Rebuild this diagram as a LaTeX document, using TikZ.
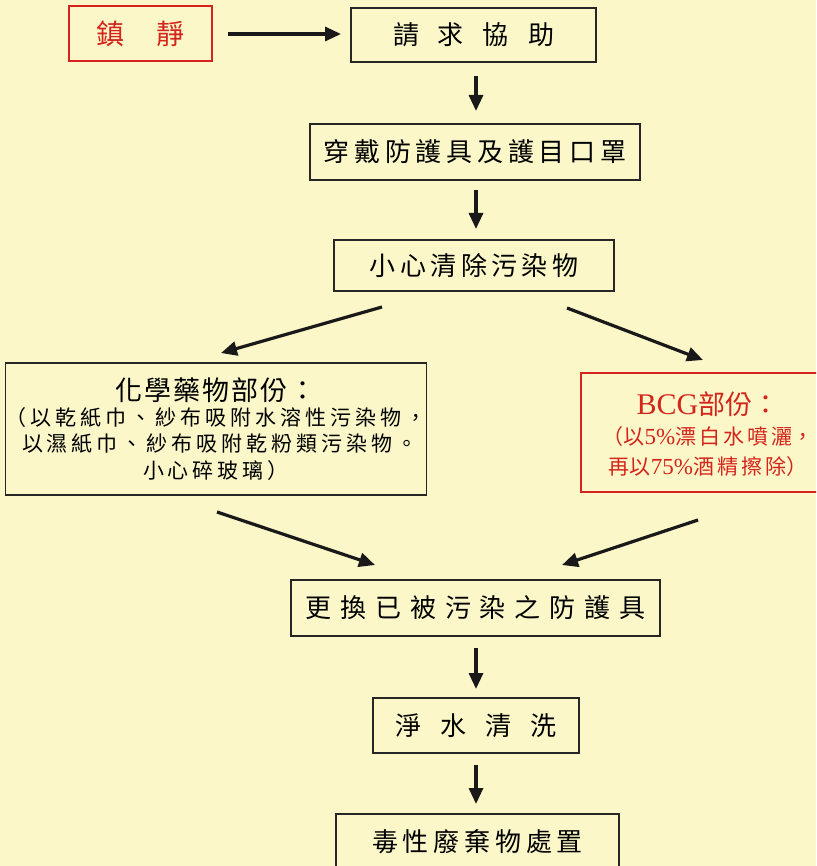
\documentclass[tikz,border=0pt]{standalone}
\usepackage{fontspec}
\setmainfont{Noto Sans CJK TC}
\newfontfamily\lat{Liberation Serif}
\usetikzlibrary{arrows.meta}
\definecolor{bgyel}{RGB}{251,247,200}
\definecolor{redc}{RGB}{212,36,28}
\makeatletter
\newcommand\spread[2]{\def\sp@first{1}\@tfor\sp@c:=#2\do{\ifnum\sp@first=1 \def\sp@first{0}\else\hspace{#1}\fi\sp@c}}
\makeatother
\tikzset{
  box/.style={draw=black!85, line width=1.6pt, inner sep=0pt, align=center, font=\fontsize{26}{30}\selectfont},
  redbox/.style={box, draw=redc, text=redc},
  arr/.style={line width=3.2pt, -{Triangle[length=16pt,width=14pt]}, black!90},
}
\begin{document}
\begin{tikzpicture}[x=1pt,y=-1pt]
\fill[bgyel] (0,0) rectangle (816,866);
\useasboundingbox (0,0) rectangle (816,866);
\clip (0,0) rectangle (816,866);

\node[redbox, minimum width=143, minimum height=55, font=\fontsize{28}{30}\selectfont] (calm) at (140.5,33.5) {\spread{32pt}{鎮靜}};
\node[box, minimum width=245, minimum height=54] (help) at (473.5,35) {\spread{19pt}{請求協助}};
\node[box, minimum width=330, minimum height=56] (wear) at (475,152) {\spread{4.7pt}{穿戴防護具及護目口罩}};
\node[box, minimum width=280, minimum height=51] (clean) at (474,265.5) {\spread{4.5pt}{小心清除污染物}};

\node[box, minimum width=418, minimum height=132, font=\fontsize{21}{27}\selectfont] (chem) at (216,429) {%
  {\fontsize{27}{30}\selectfont \spread{2pt}{化學藥物部份：}}\\[-2pt]
  \spread{4pt}{（以乾紙巾、紗布吸附水溶性污染物，}\\[-1pt]
  \hspace{8pt}\spread{4pt}{以濕紙巾、紗布吸附乾粉類污染物。}\\[0pt]
  \spread{4pt}{小心碎玻璃）}};

\node[redbox, minimum width=256, minimum height=119, anchor=north west] (bcg) at (580,372) {};
\node[text=redc, align=center, inner sep=0pt, font=\fontsize{21}{31}\selectfont] (bcgtxt) at (708,434) {%
  {\fontsize{27}{30}\selectfont {\lat\fontsize{30}{30}\selectfont BCG}部份：}\\[-1pt]
  （以{\lat\fontsize{23}{28}\selectfont 5\%}\spread{3pt}{漂白水噴灑}，\\[-1pt]
  再以{\lat\fontsize{23}{28}\selectfont 75\%}\spread{3pt}{酒精擦除}）};

\node[box, minimum width=369, minimum height=56] (change) at (475.5,608) {\spread{8.9pt}{更換已被污染之防護具}};
\node[box, minimum width=206, minimum height=55] (wash) at (476,725.5) {\spread{19pt}{淨水清洗}};
\node[box, minimum width=283, minimum height=56, anchor=north] (waste) at (477.5,813) {\spread{4.8pt}{毒性廢棄物處置}};

\coordinate (a1s) at (228,34);
\coordinate (a1e) at (341,34);
\draw[arr] (a1s) -- (a1e);

\coordinate (d1s) at (476,76);  \coordinate (d1e) at (476,111);
\coordinate (d2s) at (476,190); \coordinate (d2e) at (476,229);
\coordinate (d3s) at (476,648); \coordinate (d3e) at (476,689);
\coordinate (d4s) at (476,765); \coordinate (d4e) at (476,804);
\draw[arr] (d1s) -- (d1e);
\draw[arr] (d2s) -- (d2e);
\draw[arr] (d3s) -- (d3e);
\draw[arr] (d4s) -- (d4e);

\coordinate (l1s) at (382,307); \coordinate (l1e) at (221,353);
\coordinate (r1s) at (567,308); \coordinate (r1e) at (703,360);
\coordinate (l2s) at (217,512); \coordinate (l2e) at (375,565);
\coordinate (r2s) at (698,520); \coordinate (r2e) at (562,565);
\draw[arr] (l1s) -- (l1e);
\draw[arr] (r1s) -- (r1e);
\draw[arr] (l2s) -- (l2e);
\draw[arr] (r2s) -- (r2e);
\end{tikzpicture}
\end{document}
